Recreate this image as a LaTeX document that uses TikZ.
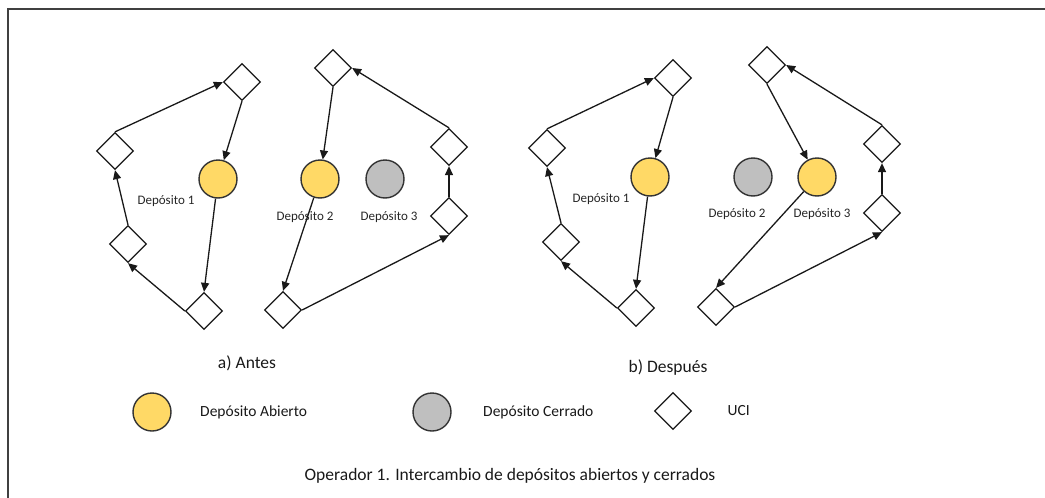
\documentclass[tikz,border=0pt]{standalone}
\usepackage{fontspec}
\setmainfont{Carlito}
\usetikzlibrary{shapes.geometric,arrows.meta}

\definecolor{amarillo}{HTML}{FFD966}
\definecolor{gris}{HTML}{BFBFBF}

\tikzstyle{uci} = [draw=black!90, fill=white, diamond, minimum size=37pt,
    inner sep=0pt, line width=1.3pt]
\tikzstyle{abierto} = [draw=black!80, fill=amarillo, circle, minimum size=38pt,
    inner sep=0pt, line width=1.4pt]
\tikzstyle{cerrado} = [draw=black!80, fill=gris, circle, minimum size=38pt,
    inner sep=0pt, line width=1.4pt]
\tikzstyle{flecha} = [-{Triangle[length=9pt,width=8pt]}, line width=1.3pt, black!90]
\tikzstyle{etiqueta} = [font=\fontsize{13}{15}\selectfont, text=black!85]
\tikzstyle{leyenda} = [font=\fontsize{15.5}{18}\selectfont, text=black!90]
\tikzstyle{titulo} = [font=\fontsize{17.5}{20}\selectfont, text=black!90]

\begin{document}
\begin{tikzpicture}[x=1pt, y=-1pt]
    \useasboundingbox (0,0) rectangle (1045,498);
    \draw[line width=2pt, black!75] (1045,9) -- (8,9) -- (8,498);
%------------ a) Antes ---------------------
    \node [uci] (a1) at (204,311) {};
    \node [uci] (a2) at (128,244) {};
    \node [uci] (a3) at (115,151) {};
    \node [uci] (a4) at (242,82) {};
    \node [abierto] (ad1) at (218,179) {};
    \node [etiqueta] (ad1txt) at (166,201) {Depósito 1};
    \draw [flecha] (a1.west) -- (a2.south);
    \draw [flecha] (a2.north) -- (a3.south);
    \draw [flecha] (a3.north) -- (a4.west);
    \draw [flecha] (a4.south) -- (ad1);
    \draw [flecha] (ad1) -- (a1.north);

    \node [uci] (a5) at (333,68) {};
    \node [uci] (a6) at (283,310) {};
    \node [uci] (a7) at (449,216) {};
    \node [uci] (a8) at (449,147) {};
    \node [abierto] (ad2) at (320,179) {};
    \node [cerrado] (ad3) at (385,179) {};
    \node [etiqueta] (ad2txt) at (305,217) {Depósito 2};
    \node [etiqueta] (ad3txt) at (389,217) {Depósito 3};
    \draw [flecha] (a5.south) -- (ad2);
    \draw [flecha] (ad2) -- (a6.north);
    \draw [flecha] (a6.east) -- (a7.south);
    \draw [flecha] (a7.north) -- (a8.south);
    \draw [flecha] (a8.north) -- (a5.east);

    \node [titulo] (antes) at (247,363) {a) Antes};
%------------ b) Despues ---------------------
    \node [uci] (b1) at (636,308) {};
    \node [uci] (b2) at (561,242) {};
    \node [uci] (b3) at (547,148) {};
    \node [uci] (b4) at (673,78) {};
    \node [abierto] (bd1) at (650,177) {};
    \node [etiqueta] (bd1txt) at (601,199) {Depósito 1};
    \draw [flecha] (b1.west) -- (b2.south);
    \draw [flecha] (b2.north) -- (b3.south);
    \draw [flecha] (b3.north) -- (b4.west);
    \draw [flecha] (b4.south) -- (bd1);
    \draw [flecha] (bd1) -- (b1.north);

    \node [uci] (b5) at (767,65) {};
    \node [uci] (b6) at (716,307) {};
    \node [uci] (b7) at (882,213) {};
    \node [uci] (b8) at (882,144) {};
    \node [cerrado] (bd2) at (753,177) {};
    \node [abierto] (bd3) at (817,177) {};
    \node [etiqueta] (bd2txt) at (737,214) {Depósito 2};
    \node [etiqueta] (bd3txt) at (822,214) {Depósito 3};
    \draw [flecha] (b5.south) -- (bd3);
    \draw [flecha] (bd3) -- (b6.north);
    \draw [flecha] (b6.east) -- (b7.south);
    \draw [flecha] (b7.north) -- (b8.south);
    \draw [flecha] (b8.north) -- (b5.east);

    \node [titulo] (despues) at (668,368) {b) Después};
%------------ Leyenda ---------------------
    \node [abierto] (leyA) at (152,412) {};
    \node [leyenda, right=25pt] (leyAtxt) at (leyA.east) {Depósito Abierto};
    \node [cerrado] (leyC) at (432,412) {};
    \node [leyenda, right=28pt] (leyCtxt) at (leyC.east) {Depósito Cerrado};
    \node [uci] (leyU) at (673,411) {};
    \node [leyenda, right=32pt] (leyUtxt) at (leyU.east) {UCI};

    \node [titulo] (pie) at (510,476) {Operador 1. Intercambio de depósitos abiertos y cerrados};
\end{tikzpicture}
\end{document}
